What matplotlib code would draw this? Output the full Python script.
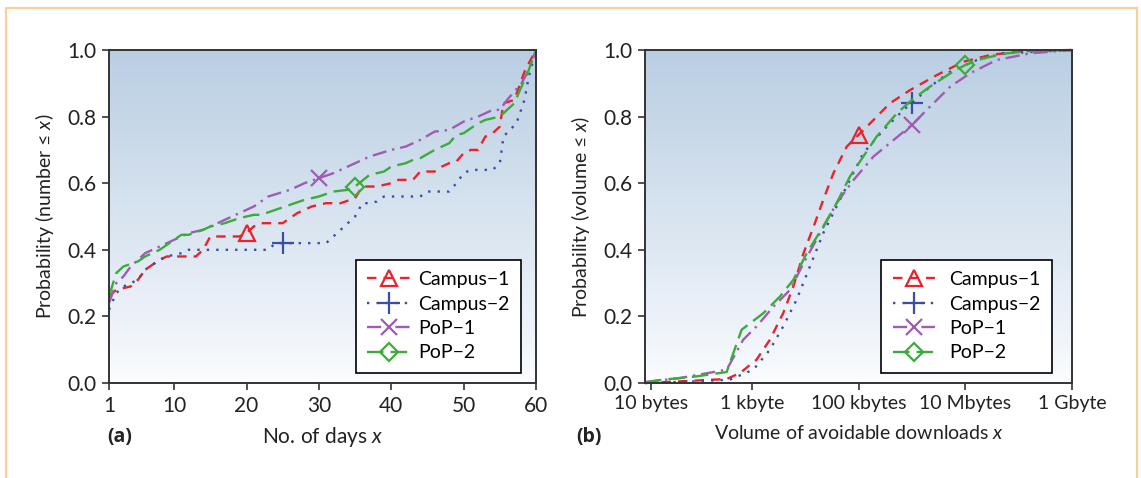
import numpy as np
import matplotlib
matplotlib.use('Agg')
from matplotlib import pyplot as plt
from matplotlib.patches import Rectangle

plt.rcParams['font.family'] = ['Lato', 'DejaVu Sans']
plt.rcParams['mathtext.fontset'] = 'custom'
plt.rcParams['mathtext.it'] = 'Lato:italic'
plt.rcParams['mathtext.rm'] = 'Lato'

# ---- panel (a): number of days ----
days_c1 = [1, 2, 4, 5, 6, 8, 9, 13, 14, 15, 19, 20, 21, 22, 25, 27, 29, 31, 33, 35, 36, 38,
           40, 41, 43, 44, 46, 47, 48, 49, 50, 51, 52, 53, 54, 55, 55.5, 57, 58.5, 60]
prob_c1 = [0.26, 0.28, 0.29, 0.31, 0.34, 0.37, 0.38, 0.38, 0.40, 0.44, 0.44, 0.45, 0.47, 0.48,
           0.48, 0.51, 0.53, 0.54, 0.54, 0.555, 0.59, 0.59, 0.60, 0.61, 0.61, 0.635, 0.635,
           0.65, 0.66, 0.665, 0.69, 0.70, 0.70, 0.74, 0.75, 0.77, 0.84, 0.85, 0.94, 1.0]

days_c2 = [1, 2, 3, 4, 5, 6, 8, 9, 11, 12, 23, 24, 25, 31, 32, 34, 35, 36, 37, 38, 39, 44,
           45, 48, 49, 50, 51, 54, 55, 55.5, 57.3, 58.4, 59, 60]
prob_c2 = [0.22, 0.27, 0.29, 0.30, 0.31, 0.34, 0.37, 0.38, 0.39, 0.40, 0.40, 0.42, 0.42, 0.42,
           0.44, 0.48, 0.50, 0.54, 0.54, 0.545, 0.56, 0.56, 0.575, 0.575, 0.60, 0.63, 0.64,
           0.64, 0.66, 0.74, 0.78, 0.85, 0.92, 1.0]

days_p1 = [1, 2, 3, 4, 6, 8, 10, 12, 14, 15, 17, 19, 21, 23, 26, 28, 30, 32, 35, 37, 40, 42,
           44, 46, 48, 50, 52, 54, 55, 56, 58, 59, 60]
prob_p1 = [0.24, 0.30, 0.32, 0.35, 0.39, 0.41, 0.43, 0.45, 0.46, 0.47, 0.49, 0.51, 0.53, 0.56,
           0.58, 0.60, 0.615, 0.63, 0.66, 0.68, 0.70, 0.71, 0.73, 0.755, 0.76, 0.785, 0.80,
           0.82, 0.82, 0.85, 0.90, 0.94, 1.0]

days_p2 = [1, 2, 3, 5, 6, 7, 8, 10, 11, 12, 14, 15, 17, 19, 21, 22, 24, 26, 28, 30, 32, 34,
           35, 37, 39, 40, 42, 43, 44, 46, 48, 49, 50, 51, 52, 53, 55, 56, 57, 58, 59, 60]
prob_p2 = [0.26, 0.33, 0.35, 0.365, 0.38, 0.39, 0.40, 0.43, 0.445, 0.445, 0.46, 0.47, 0.48,
           0.495, 0.505, 0.505, 0.52, 0.535, 0.55, 0.56, 0.575, 0.58, 0.59, 0.625, 0.635,
           0.65, 0.66, 0.67, 0.675, 0.70, 0.72, 0.745, 0.75, 0.765, 0.78, 0.79, 0.80, 0.82,
           0.84, 0.89, 0.94, 1.0]

# ---- panel (b): volume (log10 of bytes) ----
vol_c1 = [1.0, 1.66, 2.53, 2.78, 3.09, 3.34, 3.59, 3.78, 3.97, 4.16, 4.34, 4.53, 4.78, 5.0,
          5.22, 5.59, 5.97, 6.47, 6.97, 7.47, 8.09, 9.0]
cdf_c1 = [0.0, 0.005, 0.012, 0.03, 0.07, 0.13, 0.21, 0.29, 0.39, 0.47, 0.55, 0.63, 0.71, 0.745,
          0.78, 0.84, 0.88, 0.925, 0.965, 0.985, 0.997, 1.0]

vol_c2 = [1.0, 1.97, 2.59, 3.03, 3.34, 3.59, 3.84, 4.09, 4.34, 4.59, 4.84, 5.09, 5.47, 5.84,
          6.0, 6.34, 6.72, 7.22, 7.72, 9.0]
cdf_c2 = [0.0, 0.005, 0.01, 0.04, 0.10, 0.17, 0.25, 0.35, 0.45, 0.53, 0.61, 0.69, 0.76, 0.82,
          0.84, 0.89, 0.935, 0.97, 0.99, 1.0]

vol_p1 = [1.0, 1.66, 2.53, 2.84, 3.09, 3.41, 3.72, 3.97, 4.28, 4.59, 4.91, 5.28, 5.66, 6.0,
          6.34, 6.72, 7.09, 7.59, 8.22, 9.0]
cdf_p1 = [0.003, 0.015, 0.04, 0.13, 0.17, 0.23, 0.28, 0.36, 0.45, 0.54, 0.61, 0.68, 0.73, 0.775,
          0.83, 0.89, 0.93, 0.97, 0.99, 1.0]

vol_p2 = [1.0, 1.34, 1.97, 2.53, 2.81, 3.22, 3.53, 3.78, 4.03, 4.34, 4.59, 4.84, 5.09, 5.34,
          5.72, 6.0, 6.34, 6.72, 7.0, 7.34, 7.78, 8.22, 9.0]
cdf_p2 = [0.002, 0.01, 0.02, 0.033, 0.16, 0.21, 0.26, 0.31, 0.39, 0.47, 0.54, 0.62, 0.68, 0.74,
          0.81, 0.85, 0.89, 0.93, 0.955, 0.975, 0.99, 0.997, 1.0]

labels = ['Campus\u22121', 'Campus\u22122', 'PoP\u22121', 'PoP\u22122']
colors = ['#e8232b', '#3b4ea3', '#a05bb3', '#3bab3b']
styles = [(0, (4, 3)), (0, (1, 3)), (0, (6, 2.5, 1, 2.5)), (0, (7, 3))]
markers = ['^', '+', 'x', 'D']
msizes = [12, 16, 12, 9]

# which point of each curve carries the marker
mark_a = [days_c1.index(20), days_c2.index(25), days_p1.index(30), days_p2.index(35)]
mark_b = [vol_c1.index(5.0), vol_c2.index(6.0), vol_p1.index(6.0), vol_p2.index(7.0)]

vol_ticks = [10 ** 1.11, 1e3, 1e5, 1e7, 1e9]
vol_ticklabels = ['10 bytes', '1 kbyte', '100 kbytes', '10 Mbytes', '1 Gbyte']

W, H = 1141, 478
fig = plt.figure(figsize=(W / 100, H / 100), dpi=100)
fig.patches.append(Rectangle((6 / W, -0.1), 1131 / W, 1.1 - 8 / H, transform=fig.transFigure,
                             fill=False, edgecolor='#fbcf9c', lw=1.6))

grad = np.linspace(0, 1, 256).reshape(-1, 1)
top = np.array([0.73, 0.81, 0.89])
bot = np.array([0.985, 0.99, 1.0])
img = bot + (top - bot) * grad[:, :, None] ** 0.9


def make_axes(left):
    rect = [left / W, 1 - 383 / H, 427 / W, 333 / H]
    bg = fig.add_axes(rect, zorder=0)
    bg.imshow(img, aspect='auto', origin='lower', extent=[0, 1, 0, 1])
    bg.set_axis_off()
    ax = fig.add_axes(rect, zorder=1)
    ax.patch.set_alpha(0)
    for s in ax.spines.values():
        s.set_color('#333333')
        s.set_linewidth(1.4)
    ax.tick_params(direction='out', length=5, width=1.2, color='#333333',
                   labelsize=15, labelcolor='#222222', pad=4)
    ax.set_ylim(0, 1)
    ax.set_yticks([0, 0.2, 0.4, 0.6, 0.8, 1.0])
    ax.set_yticklabels(['0.0', '0.2', '0.4', '0.6', '0.8', '1.0'])
    return ax


def style_legend(ax, anchor, pad):
    leg = ax.legend(loc='lower right', bbox_to_anchor=anchor, fontsize=14, fancybox=False,
                    framealpha=1, edgecolor='black', numpoints=1, handlelength=2.2,
                    handletextpad=pad, labelspacing=0.38, borderpad=0.6, borderaxespad=0)
    leg.get_frame().set_linewidth(1.2)


# panel (a)
ax1 = make_axes(109)
series_a = [(days_c1, prob_c1), (days_c2, prob_c2), (days_p1, prob_p1), (days_p2, prob_p2)]
for (xs, ys), lab, c, ls, m, ms, mi in zip(series_a, labels, colors, styles, markers, msizes, mark_a):
    ax1.plot(xs, ys, color=c, ls=ls, lw=1.7, marker=m, ms=ms, mfc='none', mec=c, mew=1.6,
             markevery=[mi], label=lab, clip_on=False)
ax1.set_xlim(1, 60)
ax1.set_xticks([1, 10, 20, 30, 40, 50, 60])
ax1.set_xlabel('No. of days $x$', fontsize=15, labelpad=7, color='#222222')
ax1.set_ylabel('Probability (number \u2264 $x$)', fontsize=14, labelpad=8, color='#222222')
style_legend(ax1, (0.965, 0.03), 0.4)

# panel (b)
ax2 = make_axes(645)
series_b = [(vol_c1, cdf_c1), (vol_c2, cdf_c2), (vol_p1, cdf_p1), (vol_p2, cdf_p2)]
for (xs, ys), lab, c, ls, m, ms, mi in zip(series_b, labels, colors, styles, markers, msizes, mark_b):
    ax2.plot(10 ** np.array(xs), ys, color=c, ls=ls, lw=1.7, marker=m, ms=ms, mfc='none',
             mec=c, mew=1.6, markevery=[mi], label=lab, clip_on=False)
ax2.set_xscale('log')
ax2.set_xlim(10, 1e9)
ax2.set_xticks(vol_ticks)
ax2.set_xticklabels(vol_ticklabels)
ax2.minorticks_off()
ax2.tick_params(axis='x', labelsize=14)
ax2.set_xlabel('Volume of avoidable downloads $x$', fontsize=14, labelpad=8, color='#222222')
ax2.set_ylabel('Probability (volume \u2264 $x$)', fontsize=14, labelpad=8, color='#222222')
style_legend(ax2, (0.953, 0.03), 0.7)

for xp, tag in [(120, '(a)'), (589, '(b)')]:
    fig.text(xp / W, 1 - 437 / H, tag, fontsize=14, fontweight='bold', va='center',
             ha='center', color='#222222', family=['Open Sans', 'DejaVu Sans'])

fig.savefig('out.png', dpi=100)
